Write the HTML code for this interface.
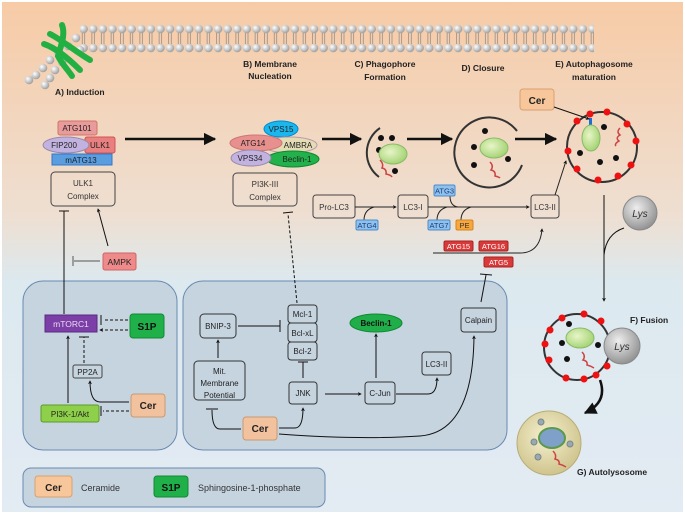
<!DOCTYPE html>
<html><head><meta charset="utf-8"><style>
html,body{margin:0;padding:0;background:#fff}
svg{display:block}
text{font-family:"Liberation Sans",sans-serif}
</style></head><body>
<svg width="685" height="514" viewBox="0 0 685 514" xmlns="http://www.w3.org/2000/svg">
<defs>
<linearGradient id="bg" x1="0" y1="0" x2="0" y2="1">
<stop offset="0" stop-color="#f7cba6"/><stop offset="0.42" stop-color="#eedfd2"/><stop offset="0.55" stop-color="#dce9ef"/><stop offset="1" stop-color="#e3ebf3"/>
</linearGradient>
<radialGradient id="head" cx="0.35" cy="0.35" r="0.7"><stop offset="0" stop-color="#fff"/><stop offset="1" stop-color="#9a9a9a"/></radialGradient>
<pattern id="heads" x="2" y="0" width="9.6" height="60" patternUnits="userSpaceOnUse">
<circle cx="4.8" cy="29" r="4.3" fill="url(#head)"/><circle cx="4.8" cy="48" r="4.3" fill="url(#head)"/>
<line x1="3.5" y1="33" x2="3.5" y2="44" stroke="#777" stroke-width="0.6"/><line x1="6" y1="33" x2="6" y2="44" stroke="#777" stroke-width="0.6"/>
</pattern>
<radialGradient id="lys" cx="0.4" cy="0.35" r="0.7"><stop offset="0" stop-color="#eee"/><stop offset="1" stop-color="#8d8d8d"/></radialGradient>
<radialGradient id="gr" cx="0.4" cy="0.4" r="0.7"><stop offset="0" stop-color="#e8f5c8"/><stop offset="1" stop-color="#9ccf6a"/></radialGradient>
<radialGradient id="auto" cx="0.45" cy="0.4" r="0.7"><stop offset="0" stop-color="#f6f0d0"/><stop offset="1" stop-color="#c9bd82"/></radialGradient>
<marker id="ar" viewBox="0 0 10 10" refX="9" refY="5" markerWidth="5" markerHeight="5" orient="auto"><path d="M0,0L10,5L0,10z" fill="#111"/></marker>
<marker id="ab" viewBox="0 0 10 10" refX="8" refY="5" markerWidth="4" markerHeight="4" orient="auto"><path d="M0,0L10,5L0,10L3,5z" fill="#111"/></marker>
</defs>
<rect x="0" y="0" width="685" height="514" fill="#fff"/>
<rect x="2" y="2" width="681" height="510" fill="url(#bg)"/>

<!-- membrane -->
<rect x="80" y="20" width="514" height="34" fill="url(#heads)"/>
<g fill="url(#head)">
<circle cx="76" cy="38" r="4.3"/><circle cx="68" cy="46" r="4.3"/><circle cx="58" cy="52" r="4.3"/><circle cx="50" cy="60" r="4.3"/><circle cx="43" cy="68" r="4.3"/><circle cx="36" cy="75" r="4.3"/><circle cx="29" cy="80" r="4.3"/>
<circle cx="80" cy="50" r="4.3"/><circle cx="62" cy="62" r="4.3"/><circle cx="55" cy="70" r="4.3"/><circle cx="50" cy="78" r="4.3"/><circle cx="45" cy="85" r="4.3"/>
</g>
<g fill="none" stroke="#22b043" stroke-width="6" stroke-linecap="round">
<path d="M62,25 C66,35 60,48 58,56 C62,64 68,70 72,76"/>
<path d="M50,34 C62,40 76,52 90,60"/>
<path d="M44,44 C56,48 70,60 80,70"/>
</g>

<g font-size="8.5" font-weight="bold" fill="#222">
<text x="55" y="95">A) Induction</text>
<text x="270" y="67" text-anchor="middle">B) Membrane</text><text x="270" y="79" text-anchor="middle">Nucleation</text>
<text x="385" y="67" text-anchor="middle">C) Phagophore</text><text x="385" y="80" text-anchor="middle">Formation</text>
<text x="483" y="71" text-anchor="middle">D) Closure</text>
<text x="594" y="67" text-anchor="middle">E) Autophagosome</text><text x="594" y="80" text-anchor="middle">maturation</text>
<text x="630" y="323">F) Fusion</text>
<text x="577" y="475">G) Autolysosome</text>
</g>

<!-- ULK1 complex -->
<rect x="58" y="121" width="39" height="14" rx="2" fill="#e99a9a" stroke="#c76"/>
<rect x="85" y="137" width="30" height="16" rx="2" fill="#ea7f80" stroke="#c55"/>
<ellipse cx="66" cy="145" rx="23" ry="8" fill="#c2b2e0" stroke="#98a"/>
<rect x="52" y="154" width="60" height="11" fill="#5a9ee0" stroke="#37c"/>
<g font-size="8" fill="#222" text-anchor="middle">
<text x="77" y="131">ATG101</text><text x="100" y="148">ULK1</text><text x="64" y="148">FIP200</text><text x="81" y="163">mATG13</text>
</g>
<rect x="51" y="172" width="64" height="34" rx="4" fill="none" stroke="#444"/>
<text x="83" y="186" font-size="8" text-anchor="middle" fill="#333">ULK1</text><text x="83" y="199" font-size="8" text-anchor="middle" fill="#333">Complex</text>

<!-- PI3K -->
<ellipse cx="281" cy="129" rx="17" ry="8" fill="#19b7ee" stroke="#08c"/>
<ellipse cx="290" cy="145" rx="27" ry="8" fill="#e4dcb4" stroke="#b9a"/>
<ellipse cx="256" cy="143" rx="26" ry="8" fill="#e8908e" stroke="#c77"/>
<ellipse cx="293" cy="159" rx="26" ry="8" fill="#22b14a" stroke="#183"/>
<ellipse cx="251" cy="158" rx="20" ry="8" fill="#c2b2e0" stroke="#98a"/>
<g font-size="8" fill="#222" text-anchor="middle">
<text x="281" y="132">VPS15</text><text x="298" y="148">AMBRA</text><text x="253" y="146">ATG14</text><text x="297" y="162">Beclin-1</text><text x="250" y="161">VPS34</text>
</g>
<rect x="233" y="173" width="64" height="33" rx="4" fill="none" stroke="#444"/>
<text x="265" y="187" font-size="8" text-anchor="middle" fill="#333">PI3K-III</text><text x="265" y="200" font-size="8" text-anchor="middle" fill="#333">Complex</text>

<!-- main arrows -->
<g stroke="#111" stroke-width="2.5" fill="none" marker-end="url(#ar)">
<line x1="125" y1="139" x2="215" y2="139"/>
<line x1="322" y1="139" x2="361" y2="139"/>
<line x1="407" y1="139" x2="452" y2="139"/>
<line x1="515" y1="139" x2="556" y2="139"/>
</g>

<!-- phagophore -->
<path d="M380,128 A30,30 0 0 0 379,177" fill="none" stroke="#333" stroke-width="2"/>
<g fill="#111"><circle cx="381" cy="138" r="3"/><circle cx="392" cy="138" r="3"/><circle cx="379" cy="150" r="3"/><circle cx="395" cy="171" r="3"/></g>
<ellipse cx="393" cy="154" rx="14" ry="10" fill="url(#gr)" stroke="#8b6"/>
<path d="M380,160 q4,4 2,8 q5,1 4,6 q5,1 6,3" fill="none" stroke="#c44" stroke-width="1.5"/>

<!-- closure -->
<path d="M517,131 A35,35 0 1 0 522,165" fill="none" stroke="#333" stroke-width="2"/>
<g fill="#111"><circle cx="485" cy="131" r="3"/><circle cx="474" cy="147" r="3"/><circle cx="508" cy="159" r="3"/><circle cx="474" cy="165" r="3"/></g>
<ellipse cx="494" cy="148" rx="14" ry="10" fill="url(#gr)" stroke="#8b6"/>
<path d="M490,162 q4,4 1,8 q5,1 4,6 q4,1 5,2" fill="none" stroke="#c44" stroke-width="1.5"/>

<!-- autophagosome -->
<circle cx="602" cy="147" r="35" fill="none" stroke="#333" stroke-width="2"/>
<g fill="#e11"><circle cx="590" cy="114" r="3.5"/><circle cx="607" cy="112" r="3.5"/><circle cx="627" cy="124" r="3.5"/><circle cx="636" cy="141" r="3.5"/><circle cx="631" cy="165" r="3.5"/><circle cx="618" cy="176" r="3.5"/><circle cx="598" cy="180" r="3.5"/><circle cx="577" cy="169" r="3.5"/><circle cx="568" cy="151" r="3.5"/><circle cx="577" cy="121" r="3.5"/></g>
<g fill="#111"><circle cx="604" cy="127" r="3"/><circle cx="580" cy="153" r="3"/><circle cx="600" cy="162" r="3"/><circle cx="616" cy="158" r="3"/></g>
<rect x="589" y="118" width="3" height="9" fill="#1a6fd0"/>
<ellipse cx="591" cy="138" rx="9" ry="13" fill="url(#gr)" stroke="#8b6"/>
<path d="M620,128 q-4,4 0,7 q-5,3 -1,6 q-5,3 -3,5" fill="none" stroke="#c44" stroke-width="1.5"/>
<rect x="520" y="89" width="34" height="21" rx="3" fill="#f7c79b" stroke="#d9a070"/>
<text x="537" y="104" font-size="10" font-weight="bold" text-anchor="middle" fill="#222">Cer</text>
<line x1="554" y1="107" x2="589" y2="119" stroke="#111" marker-end="url(#ab)"/>

<!-- LC3 row -->
<g fill="none" stroke="#444"><rect x="313" y="195" width="42" height="23" rx="3"/><rect x="398" y="195" width="30" height="23" rx="3"/><rect x="531" y="195" width="28" height="23" rx="3"/></g>
<g font-size="8" fill="#333" text-anchor="middle"><text x="334" y="210">Pro-LC3</text><text x="413" y="210">LC3-I</text><text x="545" y="210">LC3-II</text></g>
<g stroke="#222" fill="none" stroke-width="1">
<line x1="355" y1="207" x2="396" y2="207" marker-end="url(#ab)"/>
<path d="M364,220 q0,-10 10,-13"/>
<line x1="428" y1="207" x2="529" y2="207" marker-end="url(#ab)"/>
<path d="M437,220 q0,-10 10,-13"/><path d="M461,220 q0,-10 10,-13"/><path d="M450,196 q0,10 8,11"/>
<line x1="555" y1="195" x2="566" y2="161" marker-end="url(#ab)"/>
<path d="M433,253 L520,253 Q540,253 542,229" marker-end="url(#ab)"/>
</g>
<g font-size="7.5" text-anchor="middle">
<rect x="434" y="185" width="21" height="11" rx="1.5" fill="#8fc1ee" stroke="#4a8ccc"/><text x="444.5" y="193.5" fill="#1a3e7a">ATG3</text>
<rect x="356" y="220" width="22" height="10" rx="1.5" fill="#8fc1ee" stroke="#4a8ccc"/><text x="367" y="228" fill="#1a3e7a">ATG4</text>
<rect x="428" y="220" width="22" height="10" rx="1.5" fill="#8fc1ee" stroke="#4a8ccc"/><text x="439" y="228" fill="#1a3e7a">ATG7</text>
<rect x="456" y="220" width="17" height="10" rx="1.5" fill="#f7a73c" stroke="#d58420"/><text x="464.5" y="228" fill="#333">PE</text>
<rect x="444" y="241" width="29" height="10" rx="1.5" fill="#d83a3a" stroke="#a22"/><text x="458.5" y="249" fill="#fff">ATG15</text>
<rect x="479" y="241" width="29" height="10" rx="1.5" fill="#d83a3a" stroke="#a22"/><text x="493.5" y="249" fill="#fff">ATG16</text>
<rect x="484" y="257" width="29" height="10" rx="1.5" fill="#d83a3a" stroke="#a22"/><text x="498.5" y="265" fill="#fff">ATG5</text>
</g>

<!-- Lys and fusion path -->
<circle cx="640" cy="213" r="17" fill="url(#lys)" stroke="#888"/>
<text x="640" y="217" font-size="10" font-style="italic" text-anchor="middle" fill="#333">Lys</text>
<line x1="604" y1="195" x2="604" y2="301" stroke="#111" marker-end="url(#ab)"/>
<path d="M624,228 Q606,234 604,255" fill="none" stroke="#111"/>

<circle cx="577" cy="347" r="33" fill="none" stroke="#333" stroke-width="2"/>
<g fill="#e11"><circle cx="584" cy="314" r="3.5"/><circle cx="562" cy="318" r="3.5"/><circle cx="601" cy="321" r="3.5"/><circle cx="550" cy="330" r="3.5"/><circle cx="545" cy="344" r="3.5"/><circle cx="549" cy="360" r="3.5"/><circle cx="566" cy="378" r="3.5"/><circle cx="584" cy="379" r="3.5"/><circle cx="596" cy="375" r="3.5"/><circle cx="607" cy="366" r="3.5"/></g>
<g fill="#111"><circle cx="569" cy="324" r="3"/><circle cx="562" cy="343" r="3"/><circle cx="567" cy="359" r="3"/><circle cx="598" cy="345" r="3"/></g>
<ellipse cx="580" cy="338" rx="14" ry="10" fill="url(#gr)" stroke="#8b6"/>
<path d="M582,352 q4,4 1,8 q5,1 4,5 q4,1 7,3" fill="none" stroke="#c44" stroke-width="1.5"/>
<circle cx="622" cy="346" r="18" fill="url(#lys)" stroke="#888"/>
<text x="622" y="350" font-size="10" font-style="italic" text-anchor="middle" fill="#333">Lys</text>
<path d="M600,380 Q608,402 585,413" fill="none" stroke="#111" stroke-width="2.5" marker-end="url(#ar)"/>
<circle cx="549" cy="443" r="32" fill="url(#auto)" stroke="#b8ad78"/>
<g fill="#9aa8b2" stroke="#788"><circle cx="541" cy="422" r="3"/><circle cx="534" cy="442" r="3"/><circle cx="570" cy="444" r="3"/><circle cx="538" cy="457" r="3"/></g>
<ellipse cx="552" cy="438" rx="13" ry="10" fill="#7fa0c8" stroke="#5a9a4a" stroke-width="2"/>
<path d="M553,451 q4,4 2,8 q5,1 4,5 q4,1 7,3" fill="none" stroke="#c44" stroke-width="1.5"/>

<!-- left panels -->
<rect x="23" y="281" width="154" height="169" rx="20" fill="#c6d4e0" stroke="#6a8ab0"/>
<rect x="183" y="281" width="324" height="169" rx="20" fill="#c6d4e0" stroke="#6a8ab0"/>
<rect x="23" y="468" width="302" height="39" rx="8" fill="#c6d4e0" stroke="#6a8ab0"/>

<!-- AMPK etc -->
<rect x="103" y="253" width="33" height="17" rx="2" fill="#ef8a8a" stroke="#c66"/>
<text x="119.5" y="265" font-size="8.5" text-anchor="middle" fill="#222">AMPK</text>
<g stroke="#111" fill="none">
<line x1="100" y1="261" x2="74" y2="261" stroke="#555"/><line x1="73" y1="256" x2="73" y2="266" stroke="#555"/>
<line x1="64" y1="314" x2="64" y2="211"/><line x1="59" y1="211" x2="69" y2="211"/>
<line x1="108" y1="246" x2="98" y2="209" marker-end="url(#ab)"/>
<line x1="297" y1="303" x2="288" y2="214" stroke-dasharray="3,2"/><line x1="283" y1="213" x2="293" y2="212"/>
<line x1="481" y1="302" x2="486" y2="275"/><line x1="480" y1="274" x2="492" y2="275"/>
</g>

<rect x="45" y="315" width="52" height="17" fill="#7b3fa7" stroke="#5a2a80"/>
<text x="71" y="327" font-size="8.5" text-anchor="middle" fill="#e8dcf0">mTORC1</text>
<rect x="130" y="314" width="34" height="24" rx="3" fill="#1fb04a" stroke="#128a32"/>
<text x="147" y="330" font-size="10" font-weight="bold" text-anchor="middle" fill="#111">S1P</text>
<rect x="73" y="365" width="29" height="13" rx="2" fill="none" stroke="#444"/>
<text x="87.5" y="375" font-size="8" text-anchor="middle" fill="#222">PP2A</text>
<rect x="41" y="405" width="58" height="17" rx="2" fill="#8fd04a" stroke="#5a9a2a"/>
<text x="70" y="417" font-size="8" text-anchor="middle" fill="#222">PI3K-1/Akt</text>
<rect x="131" y="394" width="34" height="23" rx="3" fill="#f2c29e" stroke="#c89a70"/>
<text x="148" y="409" font-size="10" font-weight="bold" text-anchor="middle" fill="#222">Cer</text>
<g stroke="#111" fill="none">
<line x1="128" y1="320" x2="103" y2="320" stroke-dasharray="3,2"/><line x1="101" y1="315" x2="101" y2="325"/>
<line x1="128" y1="330" x2="100" y2="330" stroke-dasharray="3,2" marker-end="url(#ab)"/>
<line x1="84" y1="363" x2="84" y2="337" stroke-dasharray="3,2"/><line x1="79" y1="337" x2="89" y2="337"/>
<line x1="68" y1="403" x2="68" y2="336" marker-end="url(#ab)"/>
<path d="M129,402 L100,402 Q90,402 90,381" marker-end="url(#ab)"/>
<line x1="129" y1="411" x2="103" y2="411" stroke-dasharray="3,2"/><line x1="101" y1="406" x2="101" y2="416"/>
</g>

<!-- right panel -->
<g fill="none" stroke="#333">
<rect x="200" y="314" width="36" height="24" rx="4"/>
<rect x="288" y="305" width="29" height="18" rx="3"/><rect x="288" y="323" width="29" height="19" rx="3"/><rect x="288" y="342" width="29" height="18" rx="3"/>
<rect x="461" y="308" width="35" height="24" rx="3"/>
<rect x="194" y="361" width="51" height="39" rx="4"/>
<rect x="289" y="382" width="28" height="22" rx="3"/>
<rect x="365" y="382" width="30" height="22" rx="3"/>
<rect x="422" y="352" width="29" height="23" rx="3"/>
</g>
<ellipse cx="376" cy="323" rx="26" ry="9" fill="#1fae4a" stroke="#128a32"/>
<g font-size="8" text-anchor="middle" fill="#222">
<text x="218" y="329">BNIP-3</text><text x="302.5" y="317">Mcl-1</text><text x="302.5" y="336">Bcl-xL</text><text x="302.5" y="354">Bcl-2</text>
<text x="478.5" y="323">Calpain</text>
<text x="219.5" y="374">Mit.</text><text x="219.5" y="386">Membrane</text><text x="219.5" y="398">Potential</text>
<text x="303" y="396">JNK</text><text x="380" y="396">C-Jun</text><text x="436.5" y="367">LC3-II</text>
<text x="376" y="326" font-weight="bold" fill="#111">Beclin-1</text>
</g>
<rect x="243" y="417" width="34" height="23" rx="3" fill="#f2c29e" stroke="#c89a70"/>
<text x="260" y="432" font-size="10" font-weight="bold" text-anchor="middle" fill="#222">Cer</text>
<g stroke="#111" fill="none">
<line x1="238" y1="326" x2="280" y2="326"/><line x1="280" y1="320" x2="280" y2="332"/>
<line x1="218" y1="358" x2="218" y2="340" marker-end="url(#ab)"/>
<line x1="303" y1="378" x2="303" y2="362"/><line x1="298" y1="362" x2="308" y2="362"/>
<line x1="325" y1="394" x2="361" y2="394" marker-end="url(#ab)"/>
<line x1="376" y1="378" x2="376" y2="334" marker-end="url(#ab)"/>
<path d="M396,394 L428,394 Q437,394 437,378" marker-end="url(#ab)"/>
<path d="M241,429 L220,429 Q212,429 212,410"/><line x1="206" y1="409" x2="218" y2="409"/>
<path d="M279,428 L295,428 Q303,428 303,408" marker-end="url(#ab)"/>
<path d="M279,434 Q360,440 420,436 Q473,432 474,336" marker-end="url(#ab)"/>
</g>

<!-- legend -->
<rect x="35" y="476" width="37" height="21" rx="3" fill="#f7c79b" stroke="#d9a070"/>
<text x="53.5" y="491" font-size="10" font-weight="bold" text-anchor="middle" fill="#222">Cer</text>
<text x="81" y="491" font-size="9" fill="#333">Ceramide</text>
<rect x="154" y="476" width="34" height="21" rx="3" fill="#1fb04a" stroke="#128a32"/>
<text x="171" y="491" font-size="10" font-weight="bold" text-anchor="middle" fill="#111">S1P</text>
<text x="198" y="491" font-size="9" fill="#333">Sphingosine-1-phosphate</text>
</svg>
</body></html>
